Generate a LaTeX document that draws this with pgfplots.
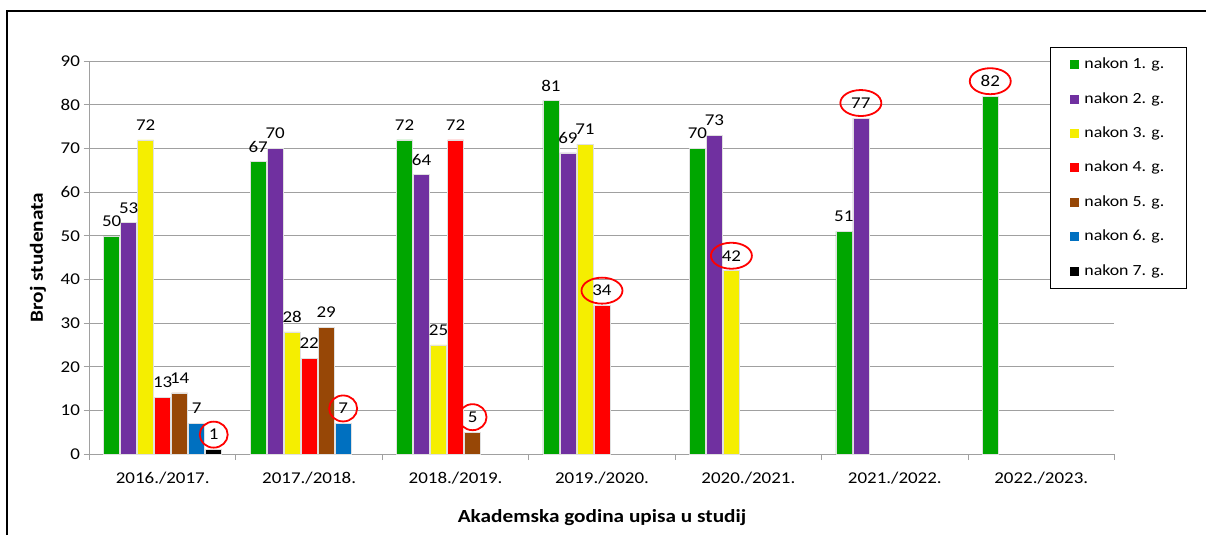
\documentclass[border=0pt]{standalone}
\usepackage{fontspec}
\setmainfont{Carlito}[FakeStretch=1.15]
\usepackage{pgfplots}
\pgfplotsset{compat=1.18}
\usetikzlibrary{shapes.geometric}
\definecolor{cG}{RGB}{0,166,0}
\definecolor{cP}{RGB}{112,48,160}
\definecolor{cY}{RGB}{245,238,0}
\definecolor{cR}{RGB}{255,0,0}
\definecolor{cB}{RGB}{151,71,6}
\definecolor{cL}{RGB}{0,112,192}
\definecolor{cK}{RGB}{0,0,0}
\definecolor{axgray}{RGB}{160,160,160}
\tikzset{redc/.style={draw=red, line width=1.8pt, ellipse, minimum width=41pt, minimum height=26pt},
         redcs/.style={draw=red, line width=1.8pt, ellipse, minimum width=28pt, minimum height=26pt}}
\begin{document}
\begin{tikzpicture}[x=1pt,y=1pt]
\useasboundingbox (0pt,0pt) rectangle (1206pt,535pt);
\draw[line width=1.3pt] (7pt,0pt) -- (7pt,524pt) -- (1206pt,524pt);
\begin{axis}[
  at={(89.5pt,81pt)}, anchor=south west,
  scale only axis, width=1025pt, height=392.7pt,
  xmin=-0.5, xmax=6.5, ymin=0, ymax=90,
  ybar=1pt, bar width=16pt,
  xtick={0,...,6},
  xticklabels={2016./2017.,2017./2018.,2018./2019.,2019./2020.,2020./2021.,2021./2022.,2022./2023.},
  minor xtick={-0.5,0.5,...,6.5},
  major x tick style={draw=none},
  ytick={0,10,...,90},
  axis x line*=bottom, axis y line*=left,
  axis line style={axgray, line width=1pt},
  tick style={axgray, line width=1pt},
  tick align=outside,
  major tick length=6pt, minor tick length=6pt,
  ymajorgrids, grid style={axgray, line width=1pt},
  xticklabel style={anchor=center, yshift=-18pt, font=\fontsize{16.5}{19}\selectfont},
  yticklabel style={anchor=east, font=\fontsize{16.5}{19}\selectfont},
  /pgf/number format/assume math mode=true,
  xlabel={\textbf{Akademska godina upisa u studij}},
  ylabel={\textbf{Broj studenata}},
  every axis x label/.style={at={(axis description cs:0.5,-0.163)}, anchor=center, font=\fontsize{18.5}{22}\selectfont},
  every axis y label/.style={at={(axis description cs:-0.0502,0.5)}, rotate=90, anchor=center, font=\fontsize{18.5}{22}\selectfont},
  nodes near coords,
  nodes near coords style={font=\fontsize{16.5}{19}\selectfont, anchor=center, yshift=15pt, inner sep=0pt, text=black},
  every axis plot/.append style={draw=black!12, line width=0.5pt,
     legend image code/.code={\fill[##1, draw=none] (0pt,-4.5pt) rectangle (9pt,4.5pt);}},
  legend style={at={(0.937,1.036)}, anchor=north west, draw=black, line width=1pt,
     font=\fontsize{15.5}{19}\selectfont, inner xsep=20pt, inner ysep=8pt, row sep=16.4pt,
     nodes={inner sep=2pt, text height=11pt, text depth=3pt},
     /tikz/every odd column/.append style={column sep=3pt}},
  legend cell align=left,
]
\addplot[fill=cG, coordinate style/.condition={\coordindex==6}{redc}] coordinates {(0,50) (1,67) (2,72) (3,81) (4,70) (5,51) (6,82)};
\addplot[fill=cP, coordinate style/.condition={\coordindex==5}{redc}] coordinates {(0,53) (1,70) (2,64) (3,69) (4,73) (5,77)};
\addplot[fill=cY, coordinate style/.condition={\coordindex==4}{redc}] coordinates {(0,72) (1,28) (2,25) (3,71) (4,42)};
\addplot[fill=cR, coordinate style/.condition={\coordindex==3}{redc}] coordinates {(0,13) (1,22) (2,72) (3,34)};
\addplot[fill=cB, coordinate style/.condition={\coordindex==2}{redcs}] coordinates {(0,14) (1,29) (2,5)};
\addplot[fill=cL, coordinate style/.condition={\coordindex==1}{redcs}] coordinates {(0,7) (1,7)};
\addplot[fill=cK, coordinate style/.condition={\coordindex==0}{redcs}] coordinates {(0,1)};
\legend{nakon 1. g.,nakon 2. g.,nakon 3. g.,nakon 4. g.,nakon 5. g.,nakon 6. g.,nakon 7. g.}
\end{axis}
\end{tikzpicture}
\end{document}
